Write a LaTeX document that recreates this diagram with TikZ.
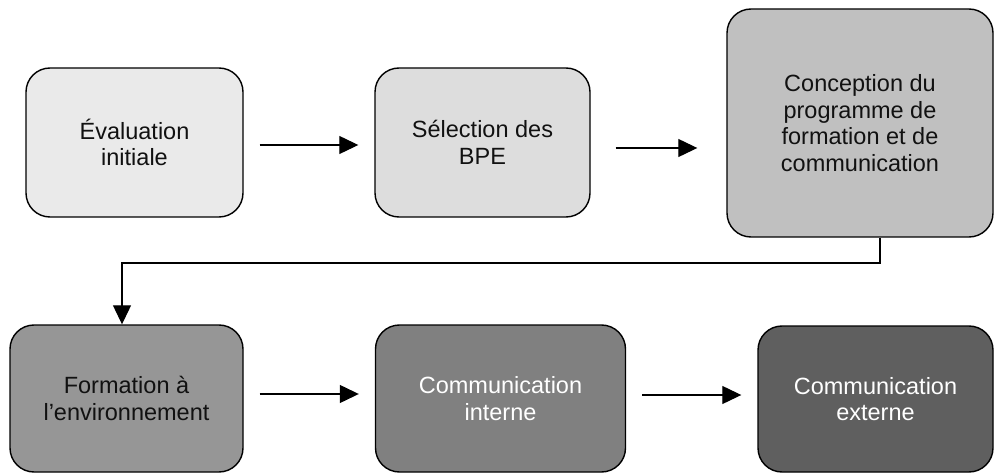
\documentclass[tikz,border=0pt]{standalone}
\usepackage{fontspec}
\setmainfont{Liberation Sans}
\usetikzlibrary{arrows.meta,calc}
\definecolor{c1}{HTML}{EAEAEA}
\definecolor{c2}{HTML}{DDDDDD}
\definecolor{c3}{HTML}{C0C0C0}
\definecolor{c4}{HTML}{969696}
\definecolor{c5}{HTML}{808080}
\definecolor{c6}{HTML}{5F5F5F}
\definecolor{txt}{HTML}{111111}
\tikzset{
  stepbox/.style={draw=black, line width=1.4pt, rounded corners=24pt, align=center,
    inner sep=0pt, text=txt, font=\fontsize{23.5}{26.5}\selectfont},
  arr/.style={line width=1.2pt, -{Triangle[length=19pt,width=18pt]}},
}
\begin{document}
\begin{tikzpicture}[x=1pt,y=-1pt]
\useasboundingbox (0,0) rectangle (994,473);
\node[stepbox, fill=c1, minimum width=217pt, minimum height=149pt] (b1) at (134.5,142.5) {Évaluation\\initiale};
\node[stepbox, fill=c2, minimum width=215pt, minimum height=149pt] (b2) at (482.5,142.5) {Sélection des\\BPE};
\node[stepbox, fill=c3, minimum width=266pt, minimum height=228pt] (b3) at (860,123) {Conception du\\programme de\\formation et de\\communication};
\node[stepbox, fill=c4, minimum width=233pt, minimum height=147pt] (b4) at (126.5,398.5) {Formation à\\l’environnement};
\node[stepbox, fill=c5, text=white, minimum width=250pt, minimum height=147pt] (b5) at (500.5,398.5) {Communication\\interne};
\node[stepbox, fill=c6, text=white, minimum width=235pt, minimum height=146pt] (b6) at (875.5,399) {Communication\\externe};

\draw[arr, shorten <=16pt, shorten >=16pt] ([yshift=-2.5pt]b1.east) -- ([yshift=-2.5pt]b1.east -| b2.west);
\draw[arr, shorten <=25pt, shorten >=29pt] ([yshift=-5.5pt]b2.east) -- ([yshift=-5.5pt]b2.east -| b3.west);
\draw[arr, shorten <=16pt, shorten >=16pt] ([yshift=4.5pt]b4.east) -- ([yshift=4.5pt]b4.east -| b5.west);
\draw[arr, shorten <=16pt, shorten >=16pt] ([yshift=3.5pt]b5.east) -- ([yshift=3.5pt]b5.east -| b6.west);
\coordinate (elb) at (880,263);
\draw[arr] ([xshift=20pt]b3.south) -- (elb) -| ([xshift=-4.5pt]b4.north);
\end{tikzpicture}
\end{document}
